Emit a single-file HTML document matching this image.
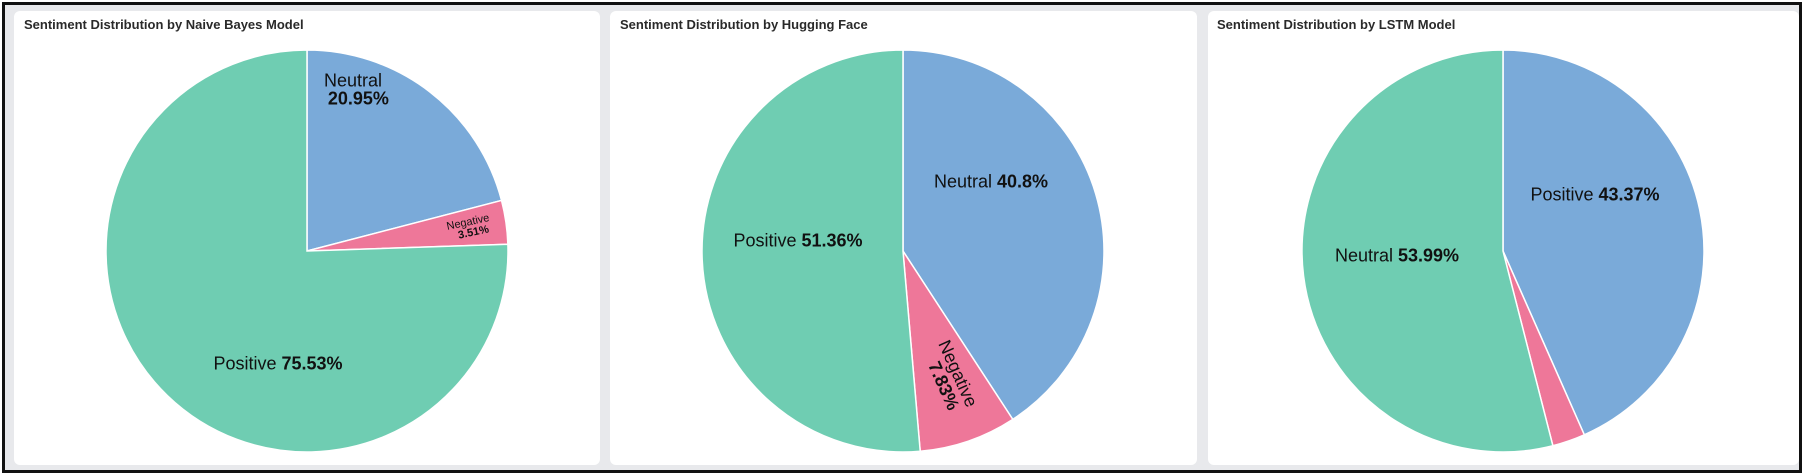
<!DOCTYPE html>
<html><head><meta charset="utf-8">
<style>
html,body{margin:0;padding:0;background:#fff;}
body{width:1804px;height:475px;position:relative;overflow:hidden;font-family:"Liberation Sans",sans-serif;}
#frame{position:absolute;left:2px;top:2px;width:1794px;height:465px;border:3px solid #111;background:#e8e9ec;}
.card{position:absolute;top:11px;height:454px;background:#fff;border-radius:6px;}
.title{position:absolute;top:17px;font-size:13px;font-weight:bold;color:#2a2a2a;}
svg{position:absolute;left:0;top:0;}
</style></head><body>
<div id="frame"></div>
<div class="card" style="left:14px;width:586px"></div>
<div class="card" style="left:610px;width:587px"></div>
<div class="card" style="left:1208px;width:591px"></div>
<div class="title" style="left:24px">Sentiment Distribution by Naive Bayes Model</div>
<div class="title" style="left:620px">Sentiment Distribution by Hugging Face</div>
<div class="title" style="left:1217px">Sentiment Distribution by LSTM Model</div>
<svg id="chart" width="1804" height="475"></svg>
<script>
const nbLabels = ["Neutral","Negative","Positive"];
const nbValues = [20.95, 3.51, 75.53];
const hfLabels = ["Neutral","Negative","Positive"];
const hfValues = [40.8, 7.83, 51.36];
const lstmLabels = ["Positive","Negative","Neutral"];
const lstmValues = [43.37, 2.64, 53.99];

const sliceColors = ["#7aaad9","#ee7799","#6fcdb2"];
const NS = "http://www.w3.org/2000/svg";
const svg = document.getElementById("chart");
const R = 201;

// layout (label offsets relative to pie centre; not data)
const pies = [
  {name:"naive-bayes", cx:307, cy:251, labels:nbLabels, values:nbValues,
   lay:[{dx:46,dy:-162,rot:0,two:true,fs:18},{dx:162,dy:-24,rot:-12,two:true,fs:11},{dx:-29,dy:112,rot:0,two:false,fs:18}]},
  {name:"hugging-face", cx:903, cy:251, labels:hfLabels, values:hfValues,
   lay:[{dx:88,dy:-70,rot:0,two:false,fs:18},{dx:47,dy:126,rot:66,two:true,fs:18},{dx:-105,dy:-11,rot:0,two:false,fs:18}]},
  {name:"lstm", cx:1503, cy:251, labels:lstmLabels, values:lstmValues,
   lay:[{dx:92,dy:-57,rot:0,two:false,fs:18},null,{dx:-106,dy:4,rot:0,two:false,fs:18}]}
];

function pt(cx,cy,a){return [cx+R*Math.sin(a), cy-R*Math.cos(a)];}

pies.forEach(p=>{
  const total = p.values.reduce((s,v)=>s+v,0);
  let a0 = 0;
  p.values.forEach((v,i)=>{
    const a1 = a0 + v/total*2*Math.PI;
    const [x0,y0] = pt(p.cx,p.cy,a0), [x1,y1] = pt(p.cx,p.cy,a1);
    const path = document.createElementNS(NS,"path");
    path.setAttribute("d",`M${p.cx},${p.cy}L${x0},${y0}A${R},${R} 0 ${a1-a0>Math.PI?1:0} 1 ${x1},${y1}Z`);
    path.setAttribute("fill",sliceColors[i]);
    path.setAttribute("stroke","#fff");
    path.setAttribute("stroke-width","1.5");
    
    
    svg.appendChild(path);
    a0 = a1;
  });
  p.values.forEach((v,i)=>{
    const l = p.lay[i]; if(!l) return;
    const g = document.createElementNS(NS,"text");
    g.setAttribute("transform",`translate(${p.cx+l.dx},${p.cy+l.dy}) rotate(${l.rot})`);
    g.setAttribute("text-anchor","middle");
    g.setAttribute("font-size",l.fs);
    g.setAttribute("fill","#111");
    
    
    const t1 = document.createElementNS(NS,"tspan");
    t1.textContent = p.labels[i] + (l.two?"":" ");
    const t2 = document.createElementNS(NS,"tspan");
    t2.setAttribute("font-weight","bold");
    t2.textContent = v + "%";
    if(l.two){
      t1.setAttribute("x",0); t1.setAttribute("dy",-l.fs*0.15);
      t2.setAttribute("x",l.fs*0.3); t2.setAttribute("dy",l.fs*1.0);
    } else {
      g.setAttribute("dy","0.35em");
    }
    g.appendChild(t1); g.appendChild(t2);
    svg.appendChild(g);
  });
});
</script>
</body></html>
